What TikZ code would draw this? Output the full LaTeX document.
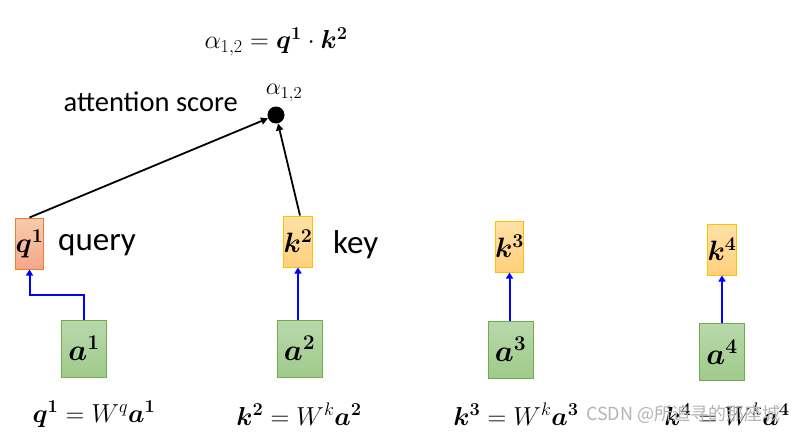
\RequirePackage{fix-cm}
\documentclass[tikz,border=0pt]{standalone}
\usepackage{amsmath,bm}
\usepackage{fontspec}
\newfontfamily\labelfont{Carlito}
\newfontfamily\cjk{Noto Sans CJK SC}
\usetikzlibrary{arrows.meta}
\definecolor{qborder}{HTML}{ED7D31}
\definecolor{qtop}{HTML}{F8CBAD}
\definecolor{qbot}{HTML}{F4A888}
\definecolor{kborder}{HTML}{FFC000}
\definecolor{ktop}{HTML}{FFE1A6}
\definecolor{kbot}{HTML}{FFD07C}
\definecolor{aborder}{HTML}{70AD47}
\definecolor{atop}{HTML}{B9D8AB}
\definecolor{abot}{HTML}{9FCB8B}
\definecolor{wm}{HTML}{B4B4B4}
\tikzset{
  vecbox/.style={draw, line width=1pt, inner sep=0pt},
  qbox/.style={vecbox, draw=qborder, top color=qtop, bottom color=qbot, minimum width=27pt, minimum height=51pt, font=\fontsize{28}{30}\selectfont},
  kbox/.style={vecbox, draw=kborder, top color=ktop, bottom color=kbot, minimum width=28pt, minimum height=51pt, font=\fontsize{28}{30}\selectfont},
  abox/.style={vecbox, draw=aborder, top color=atop, bottom color=abot, minimum width=45pt, minimum height=57pt, font=\fontsize{30}{32}\selectfont},
  blue arrow/.style={draw=blue, line width=2pt, -{Triangle[width=7pt,length=6pt]}},
  black arrow/.style={draw=black, line width=1.8pt, -{Triangle[width=7pt,length=7pt]}},
  lbl/.style={font=\labelfont\fontsize{33}{35}\selectfont, inner sep=0pt},
  formula/.style={font=\fontsize{26}{28}\selectfont, inner sep=0pt},
}
\begin{document}
\begin{tikzpicture}[x=1pt,y=-1pt]
\useasboundingbox[fill=white] (0,0) rectangle (798,440);
% top formula
\node[formula] (top) at (276,42) {$\alpha_{1,2} = \bm{q}^{\bm 1}\cdot \bm{k}^{\bm 2}$};
% dot
\node[circle, fill=black, minimum size=17pt, inner sep=0pt] (dot) at (276,115) {};
\node[formula, font=\fontsize{24}{26}\selectfont] (alab) at (284,93) {$\alpha_{1,2}$};
\node[lbl, font=\labelfont\fontsize{28.5}{30}\selectfont, anchor=east] (att) at (238,102) {attention score};
% boxes
\node[qbox] (q1) at (29.5,243.5) {$\bm{q}^{\bm 1}$};
\node[kbox] (k2) at (298,241.5) {$\bm{k}^{\bm 2}$};
\node[kbox] (k3) at (509.5,246.5) {$\bm{k}^{\bm 3}$};
\node[kbox] (k4) at (722,249.5) {$\bm{k}^{\bm 4}$};
\node[abox] (a1) at (84,348.5) {$\bm{a}^{\bm 1}$};
\node[abox] (a2) at (299.5,348.5) {$\bm{a}^{\bm 2}$};
\node[abox] (a3) at (510.5,349.5) {$\bm{a}^{\bm 3}$};
\node[abox] (a4) at (722,352) {$\bm{a}^{\bm 4}$};
% labels
\node[lbl, anchor=west] (qlab) at (58,245) {query};
\node[lbl, anchor=west] (klab) at (333,245) {key};
% connectors
\draw[blue arrow] (a1.north) -- ++(0,-25) -| (q1.south);
\draw[blue arrow] (a2.north -| k2.south) -- (k2.south);
\draw[blue arrow] (a3.north -| k3.south) -- (k3.south);
\draw[blue arrow] (a4.north -| k4.south) -- (k4.south);
\draw[black arrow] (q1.north) -- (dot);
\draw[black arrow] ([xshift=2pt]k2.north) -- (dot);
% bottom formulas
\node[formula] (f1) at (94,414) {$\bm{q}^{\bm 1} = W^{q}\bm{a}^{\bm 1}$};
\node[formula] (f2) at (299,414) {$\bm{k}^{\bm 2} = W^{k}\bm{a}^{\bm 2}$};
\node[formula] (f3) at (516,414) {$\bm{k}^{\bm 3} = W^{k}\bm{a}^{\bm 3}$};
\node[formula] (f4) at (727,414) {$\bm{k}^{\bm 4} = W^{k}\bm{a}^{\bm 4}$};
% watermark
\node[font=\cjk\fontsize{18}{19}\selectfont, text=wm, anchor=west, inner sep=0pt] (wmark) at (586,414) {CSDN @所追寻的那座城};
\end{tikzpicture}
\end{document}
